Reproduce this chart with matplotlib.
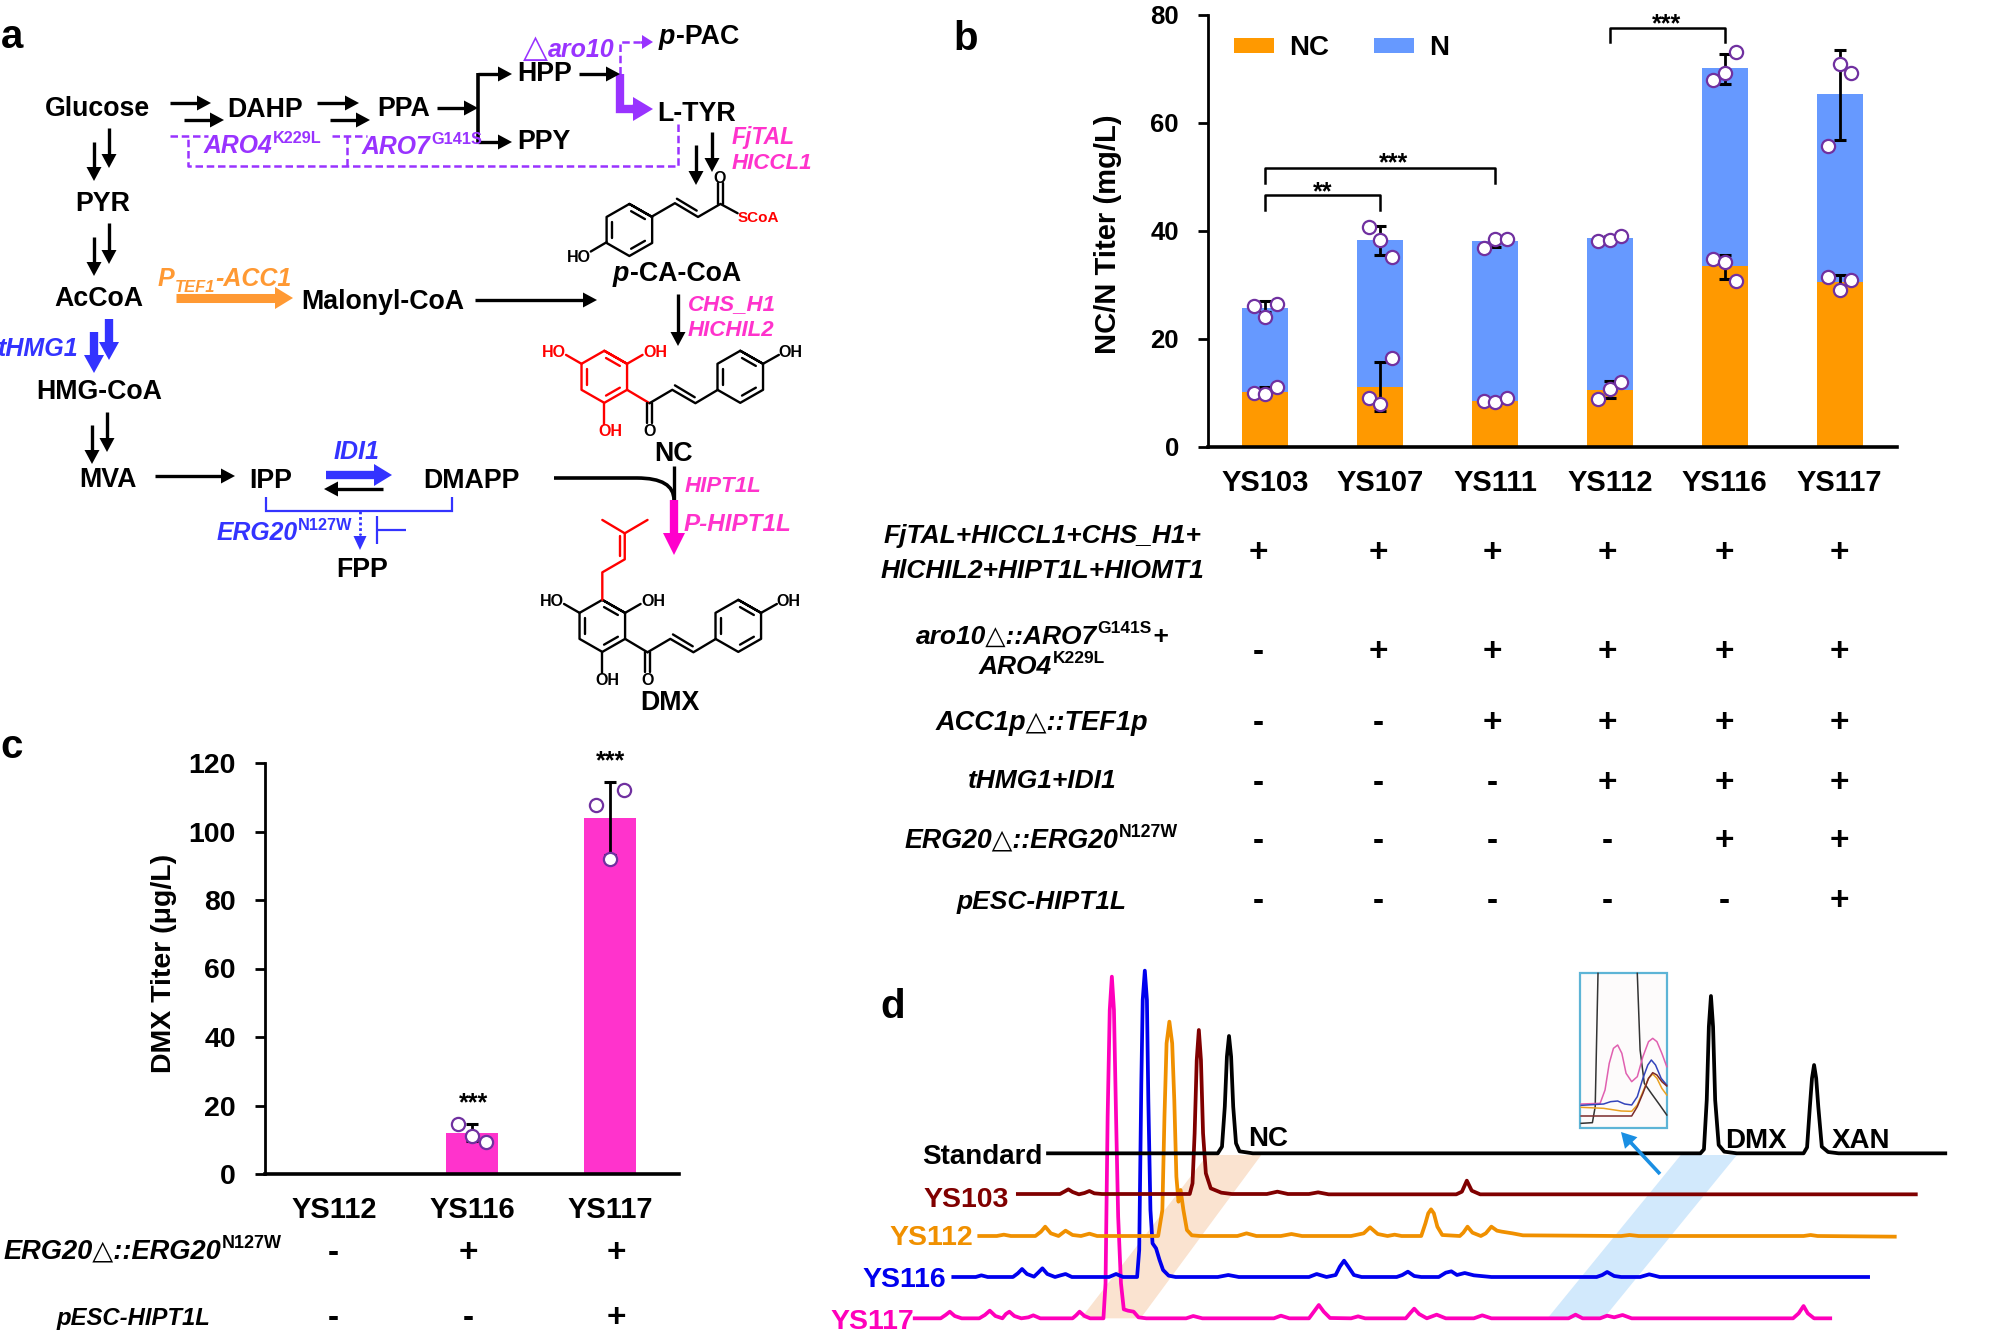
import numpy as np
import matplotlib
matplotlib.use('Agg')
import matplotlib.pyplot as plt
from matplotlib.patches import Polygon, Rectangle, PathPatch
from matplotlib.path import Path

plt.rcParams['font.family'] = ['Liberation Sans', 'DejaVu Sans']
plt.rcParams['font.weight'] = 'bold'

# ---------- DATA ----------
strains_b = ['YS103', 'YS107', 'YS111', 'YS112', 'YS116', 'YS117']
nc_titer = [10.2, 11.2, 8.6, 10.6, 33.5, 30.5]
n_titer = [15.5, 27.1, 29.5, 28.1, 36.7, 34.8]
nc_err_low = [10.0, 6.7, 8.3, 9.0, 31.2, 29.0]
nc_err_high = [11.1, 15.7, 9.0, 12.2, 35.5, 31.8]
total_err_low = [25.0, 35.5, 37.0, 38.2, 67.3, 56.9]
total_err_high = [27.0, 40.9, 38.9, 39.0, 72.8, 73.6]
nc_points = [[10.0, 9.8, 11.1], [9.1, 8.0, 16.4], [8.5, 8.3, 9.1],
             [8.8, 10.7, 12.0], [34.8, 34.3, 30.8], [31.4, 29.0, 31.0]]
total_points = [[26.1, 24.0, 26.5], [40.7, 38.3, 35.2], [36.9, 38.5, 38.6],
                [38.2, 38.3, 39.1], [67.9, 69.3, 73.1], [55.7, 70.9, 69.2]]
table_b = ['++++++', '-+++++', '--++++', '---+++', '----++', '-----+']

strains_c = ['YS112', 'YS116', 'YS117']
dmx_titer = [0, 12, 104]
dmx_err_low = [0, 9.5, 93]
dmx_err_high = [0, 14.5, 114.5]
dmx_points = [[], [14.7, 11.2, 9.3], [107.8, 92.0, 112.0]]
table_c = ['-++', '--+']

standard_trace = [(268,610),(510,610),(516,590),(520,470),(523,320),(526,258),(529,320),(532,470),(536,580),(541,604),(560,610),
                  (1198,610),(1203,598),(1207,450),(1210,230),(1213,138),(1216,230),(1219,450),(1224,585),(1232,605),(1250,610),
                  (1345,610),(1350,592),(1354,470),(1357,385),(1360,345),(1363,385),(1366,470),(1371,590),(1380,606),(1395,610),(1547,610)]
ys103_trace = [(225,732),(285,732),(292,724),(297,718),(303,726),(312,733),(320,729),(327,723),(334,730),(345,732),(470,732),
               (474,700),(477,550),(480,330),(483,240),(486,330),(489,550),(493,670),(500,715),(515,728),(530,732),(580,732),
               (595,725),(610,732),(640,732),(653,727),(668,733),(850,733),(858,725),(865,692),(872,722),(884,733),(1505,733)]
ys112_trace = [(170,858),(195,858),(205,854),(215,858),(250,858),(258,845),(264,830),(272,850),(283,858),(293,842),(303,855),
               (315,858),(327,851),(338,858),(425,858),(431,780),(434,500),(437,280),(441,215),(445,280),(448,450),(451,680),
               (454,755),(457,720),(461,780),(466,840),(473,856),(485,858),(538,858),(551,850),(565,858),(600,858),(615,852),
               (630,858),(700,858),(718,850),(727,832),(738,852),(752,858),(762,854),(772,858),(800,858),(806,820),(810,790),
               (814,778),(818,790),(823,830),(830,855),(855,858),(860,848),(866,830),(873,848),(885,858),(892,850),(900,830),
               (908,842),(915,845),(930,850),(945,856),(1085,858),(1097,855),(1110,858),(1345,858),(1355,855),(1365,858),(1475,860)]
ys116_trace = [(133,981),(165,981),(173,976),(182,981),(218,981),(225,970),(231,957),(238,972),(248,980),(254,968),(260,955),
               (267,972),(278,981),(286,976),(293,972),(302,981),(355,981),(365,972),(375,981),(395,981),(398,900),(401,400),
               (403,150),(406,62),(409,150),(411,450),(414,780),(417,880),(422,895),(427,930),(432,960),(440,977),(450,981),
               (510,981),(525,975),(540,981),(640,981),(651,972),(665,981),(678,975),(684,950),(690,932),(696,950),(704,975),
               (715,981),(765,981),(773,975),(781,965),(790,978),(800,981),(825,981),(835,968),(843,964),(851,975),(862,969),
               (875,976),(900,981),(1050,981),(1058,975),(1065,966),(1075,978),(1085,981),(1112,981),(1125,973),(1140,981),(1437,981)]
ys117_trace = [(78,1105),(115,1105),(122,1095),(128,1085),(135,1098),(145,1105),(170,1105),(178,1095),(185,1082),(193,1098),
               (203,1105),(208,1092),(213,1085),(220,1098),(230,1105),(240,1102),(247,1096),(257,1105),(303,1105),(308,1096),
               (313,1085),(320,1098),(328,1105),(347,1105),(350,1000),(353,500),(356,180),(359,80),(362,180),(365,500),(368,800),
               (372,1000),(376,1078),(382,1082),(390,1085),(397,1102),(408,1105),(465,1105),(475,1098),(488,1105),(590,1105),
               (600,1097),(612,1105),(640,1105),(647,1085),(654,1065),(661,1085),(670,1104),(700,1105),(710,1099),(720,1105),
               (778,1105),(784,1090),(790,1076),(797,1092),(808,1105),(822,1094),(835,1105),(875,1105),(887,1096),(900,1105),
               (1010,1105),(1020,1094),(1030,1105),(1055,1105),(1065,1097),(1075,1102),(1087,1095),(1100,1105),(1330,1105),
               (1338,1090),(1345,1068),(1351,1090),(1360,1105),(1383,1105)]
inset_black = [(1028,520),(1044,518),(1048,470),(1052,70)]
inset_black2 = [(1108,70),(1112,300),(1118,400),(1128,430),(1140,465),(1150,495)]
inset_magenta = [(1028,462),(1055,460),(1062,420),(1068,340),(1074,295),(1080,285),(1086,310),(1092,370),(1100,395),(1108,380),(1116,320),(1124,275),(1130,265),(1136,275),(1143,310),(1150,350)]
inset_blue = [(1028,466),(1060,462),(1070,455),(1080,453),(1090,462),(1100,465),(1108,440),(1116,385),(1123,345),(1128,330),(1134,345),(1142,385),(1150,405)]
inset_orange = [(1028,472),(1060,475),(1085,483),(1100,484),(1108,465),(1116,425),(1124,385),(1130,372),(1136,385),(1143,415),(1150,435)]
inset_darkred = [(1028,498),(1085,498),(1100,498),(1108,470),(1116,430),(1124,385),(1130,368),(1136,375),(1143,395),(1150,408)]

# ---------- COLOURS ----------
ORANGE, BLUE, PINK = '#FF9900', '#6699FF', '#FF33CC'
PURPLE, VIOLET, RBLUE = '#7030A0', '#9933FF', '#3333FF'
MAG = '#FF00CC'
DOT_W = 1.6

fig = plt.figure(figsize=(20, 13.4), dpi=100)
W, H = 2000, 1340

def ax_px(l, t, r, b, **kw):
    return fig.add_axes([l / W, 1 - b / H, (r - l) / W, (b - t) / H], **kw)

def style_axis(ax, size, pad):
    for s in ('top', 'right'):
        ax.spines[s].set_visible(False)
    ax.spines['left'].set_linewidth(2)
    ax.spines['bottom'].set_linewidth(2.6)
    ax.tick_params(axis='y', length=7, width=2, direction='out', labelsize=size, pad=pad)
    ax.tick_params(axis='x', length=0, labelsize=21)
    ax.patch.set_alpha(0)

# ---------- PANEL b ----------
axb = ax_px(1208, 15, 1897, 447)
xb = np.arange(len(strains_b))
totals = np.array(nc_titer) + np.array(n_titer)
b1 = axb.bar(xb, nc_titer, width=0.4, color=ORANGE, label='NC', zorder=2)
b2 = axb.bar(xb, n_titer, bottom=nc_titer, width=0.4, color=BLUE, label='N', zorder=2)
axb.errorbar(xb, nc_titer, yerr=[np.array(nc_titer) - np.array(nc_err_low), np.array(nc_err_high) - np.array(nc_titer)],
             fmt='none', ecolor='k', elinewidth=2, capsize=4.5, capthick=2.2, zorder=3)
axb.errorbar(xb, totals, yerr=[totals - np.array(total_err_low), np.array(total_err_high) - totals],
             fmt='none', ecolor='k', elinewidth=2, capsize=4.5, capthick=2.2, zorder=3)
for i in xb:
    for pts in (nc_points[i], total_points[i]):
        axb.plot([i - 0.1, i, i + 0.1], pts, 'o', ms=9.5, mfc='white', mec=PURPLE, mew=DOT_W, zorder=4, clip_on=False)
axb.set_xlim(-0.5, 5.5)
axb.set_ylim(0, 80)
axb.set_yticks([0, 20, 40, 60, 80])
axb.set_xticks(xb, strains_b)
style_axis(axb, 18.5, 14)
axb.tick_params(axis='x', pad=16)
axb.set_ylabel('NC/N Titer (mg/L)', fontsize=21, fontweight='bold')
axb.yaxis.set_label_coords((1122 - 1208) / 689, (447 - 234) / 432)
axb.legend(handles=[b1, b2], loc='upper left', bbox_to_anchor=((1234 - 1208) / 689, 0.953), ncol=2, frameon=False,
           fontsize=20, handlelength=1.44, handleheight=0.5, handletextpad=0.55, columnspacing=1.6,
           borderaxespad=0, borderpad=0)
for x0, x1, top, bot in ((0, 1, 46.7, 43.9), (0, 2, 51.7, 48.9), (3, 4, 77.6, 75.0)):
    axb.plot([x0, x0, x1, x1], [bot, top, top, bot], color='k', lw=1.8, clip_on=False, zorder=5)

# ---------- PANEL c ----------
axc = ax_px(265, 763, 679, 1174)
xc = np.arange(len(strains_c))
axc.bar(xc, dmx_titer, width=0.37, color=PINK, zorder=2)
te = np.array(dmx_titer, float)
axc.errorbar(xc[1:], te[1:], yerr=[(te - np.array(dmx_err_low))[1:], (np.array(dmx_err_high) - te)[1:]],
             fmt='none', ecolor='k', elinewidth=2, capsize=4.5, capthick=2.2, zorder=3)
for i in xc:
    if dmx_points[i]:
        axc.plot([i - 0.1, i, i + 0.1], dmx_points[i], 'o', ms=9.5, mfc='white', mec=PURPLE, mew=DOT_W, zorder=4, clip_on=False)
axc.set_xlim(-0.5, 2.5)
axc.set_ylim(0, 120)
axc.set_yticks(range(0, 121, 20))
axc.set_xticks(xc, strains_c)
style_axis(axc, 20.5, 14)
axc.tick_params(axis='x', pad=16)
axc.set_ylabel('DMX Titer (μg/L)', fontsize=20.5, fontweight='bold')
axc.yaxis.set_label_coords((177 - 265) / 414, (1174 - 963) / 411)

# ---------- PANEL d ----------
axd = ax_px(860, 950, 1960, 1340)
axd.set_xlim(0, 1568)
axd.set_ylim(1170, 0)
axd.axis('off')
axd.add_patch(Polygon([(495, 615), (572, 615), (400, 1105), (315, 1105)], fc='#FAE3D0', ec='none', zorder=1))
axd.add_patch(Polygon([(1170, 615), (1250, 615), (1060, 1105), (980, 1105)], fc='#D2E9FC', ec='none', zorder=1))
for trace, col in ((ys117_trace, '#FF00BB'), (ys116_trace, '#0000EE'), (ys112_trace, '#F09000'),
                   (ys103_trace, '#800000'), (standard_trace, 'k')):
    arr = np.array(trace)
    axd.plot(arr[:, 0], arr[:, 1], color=col, lw=2.7, solid_joinstyle='round', zorder=3, clip_on=False)
axd.add_patch(Rectangle((1027, 70), 123, 465, fc='#FDFBFB', ec='#5DB4D6', lw=1.6, zorder=4))
for tr, col in ((inset_black, '#333333'), (inset_black2, '#333333'), (inset_magenta, '#E060B0'), (inset_blue, '#3344BB'),
                (inset_orange, '#E8A020'), (inset_darkred, '#7A2A2A')):
    arr = np.array(tr)
    axd.plot(arr[:, 0], arr[:, 1], color=col, lw=1.1, zorder=5)

# ---------- OVERLAY (pathway, table text, labels) ----------
ov = fig.add_axes([0, 0, 1, 1], zorder=20)
ov.set_xlim(0, W)
ov.set_ylim(H, 0)
ov.axis('off')
ov.patch.set_alpha(0)
rend = fig.canvas.get_renderer()

def T(x, y, s, size=19, color='k', style='normal', ha='center', rot=0):
    em = size * 100 / 72
    return ov.text(x, y + 0.36 * em, s, fontsize=size, color=color, style=style, ha=ha, va='baseline',
                   fontweight='bold', rotation=rot, zorder=30)

def rich(x, y, parts, size=19, color='k', style='italic', ha='center'):
    """parts = [(string, kind)], kind: 'n' normal, 'sup', 'sub'; p = upright, tri = larger upright"""
    em = size * 100 / 72
    base = y + 0.36 * em
    items, cx = [], 0.0
    for s, kind in parts:
        sz, dy, st = size, 0, style
        if kind == 'sup':
            sz, dy, st = size * 0.66, -0.40 * em, 'normal'
        elif kind == 'sub':
            sz, dy = size * 0.66, 0.22 * em
        elif kind == 'p':
            st = 'normal'
        elif kind == 'tri':
            sz, st = size * 1.3, 'normal'
        t = ov.text(0, base + dy, s, fontsize=sz, color=color, style=st, ha='left', va='baseline', fontweight='bold', zorder=30)
        w = t.get_window_extent(rend).width
        items.append((t, cx))
        cx += w + 0.5
    x0 = x - cx / 2 if ha == 'center' else x
    for t, off in items:
        t.set_x(x0 + off)

def line(pts, c='k', w=2.2, ls='-', z=10):
    a = np.array(pts)
    ov.plot(a[:, 0], a[:, 1], color=c, lw=w, ls=ls, zorder=z, solid_capstyle='butt', dash_capstyle='butt',
            solid_joinstyle='miter', clip_on=False)

def arrow(x1, y1, x2, y2, c='k', w=2.4, hw=15, hl=14):
    d = np.array([x2 - x1, y2 - y1], float)
    L = np.hypot(*d)
    u = d / L
    n = np.array([-u[1], u[0]])
    tip = np.array([x2, y2], float)
    b = tip - u * hl
    line([(x1, y1), tuple(tip - u * hl * 0.7)], c, w)
    ov.add_patch(Polygon([tip, b + n * hw / 2, b - n * hw / 2], fc=c, ec='none', zorder=11))

# panel letters
for lab_, x, y in (('a', 12, 33), ('b', 966, 36), ('c', 12, 743), ('d', 893, 1004)):
    T(x, y, lab_, size=29)

# metabolites
for s, x, y in (('Glucose', 97, 106), ('DAHP', 265, 107), ('PPA', 404, 106), ('HPP', 545, 71), ('PPY', 544, 139),
                ('L-TYR', 697, 111), ('PYR', 103, 201), ('AcCoA', 99, 296), ('Malonyl-CoA', 383, 299),
                ('HMG-CoA', 99, 389), ('MVA', 108, 477), ('IPP', 271, 478), ('DMAPP', 471, 478), ('FPP', 362, 567),
                ('NC', 673, 451), ('DMX', 670, 700)):
    T(x, y, s, size=19.3)
rich(699, 34, [('p', 'n'), ('-PAC', 'p')], size=19.3)
rich(677, 271, [('p', 'n'), ('-CA-CoA', 'p')], size=19.3)

# enzyme labels
rich(569, 48, [('△', 'tri'), ('aro10', 'n')], size=18, color=VIOLET)
rich(263, 144, [('ARO4', 'n'), ('K229L', 'sup')], size=17.8, color=VIOLET)
rich(422, 145, [('ARO7', 'n'), ('G141S', 'sup')], size=17.8, color=VIOLET)
for s, x, y, sz in (('FjTAL', 763, 136, 16.5), ('HICCL1', 772, 161, 16), ('CHS_H1', 732, 302, 16), ('HICHIL2', 731, 328, 16),
                    ('HIPT1L', 723, 484, 16), ('P-HIPT1L', 738, 522, 17.5)):
    T(x, y, s, size=sz, color=PINK, style='italic')
rich(225, 277, [('P', 'n'), ('TEF1', 'sub'), ('-ACC1', 'n')], size=18, color='#FF9933')
T(38, 347, 'tHMG1', size=18, color=RBLUE, style='italic')
T(356, 450, 'IDI1', size=18, color=RBLUE, style='italic')
rich(285, 531, [('ERG20', 'n'), ('N127W', 'sup')], size=17.8, color=RBLUE)

# arrows: black
for a in ((170, 103, 211, 103), (184, 120, 224, 120), (317, 103, 359, 103), (330, 120, 370, 120), (437, 108, 478, 108),
          (478, 74, 512, 74), (478, 142, 512, 142), (579, 74, 620, 74),
          (109, 128, 109, 168), (94, 142, 94, 181), (109, 223, 109, 264), (94, 237, 94, 276),
          (712, 132, 712, 172), (696, 145, 696, 185), (107, 412, 107, 452), (92, 425, 92, 464),
          (475, 300, 597, 300), (678, 294, 678, 346), (155, 476, 235, 476), (383, 489, 324, 489)):
    arrow(*a)
line([(478, 73), (478, 143)], w=2.6)
# purple
line([(620, 74), (620, 109), (640, 109)], VIOLET, w=6)
arrow(632, 109, 653, 109, VIOLET, w=6, hw=24, hl=20)
line([(620, 74), (620, 42), (640, 42)], VIOLET, w=1.8, ls=(0, (3, 1.5)))
arrow(640, 42, 653, 42, VIOLET, w=1.8, hw=14, hl=11)
line([(678, 124), (678, 166), (188, 166), (188, 136)], VIOLET, w=1.8, ls=(0, (3, 1.5)))
line([(170, 136), (208, 136)], VIOLET, w=1.8, ls=(0, (3, 1.5)))
line([(347, 166), (347, 136)], VIOLET, w=1.8, ls=(0, (3, 1.5)))
line([(332, 136), (367, 136)], VIOLET, w=1.8, ls=(0, (3, 1.5)))
# blue / orange
arrow(109, 319, 109, 360, RBLUE, w=6, hw=20, hl=18)
arrow(94, 332, 94, 373, RBLUE, w=6, hw=20, hl=18)
arrow(176, 298, 293, 298, '#FF9933', w=6.5, hw=22, hl=18)
arrow(326, 475, 392, 475, RBLUE, w=6, hw=22, hl=18)
line([(266, 497), (266, 511), (452, 511), (452, 497)], RBLUE, w=1.6)
line([(360, 511), (360, 535)], RBLUE, w=2, ls=(0, (1, 1)))
arrow(360, 533, 360, 550, RBLUE, w=0.5, hw=13, hl=14)
line([(377, 516), (377, 544)], RBLUE, w=1.6)
line([(377, 530), (406, 530)], RBLUE, w=1.6)
# prenyl step
ov.add_patch(PathPatch(Path([(554, 478), (637, 478), (674, 478), (674, 500)],
                            [Path.MOVETO, Path.LINETO, Path.CURVE3, Path.CURVE3]), fc='none', ec='k', lw=2.6, zorder=10))
line([(674, 466), (674, 501)], w=2.4)
arrow(674, 500, 674, 555, MAG, w=6, hw=22, hl=22)

# structures, given in crop units of the reference
def Z(x, y):
    return (500 + x / 3.03, 140 + y / 2.69)

def zline(pts, c='k', w=1.7):
    ov.plot(*zip(*[Z(*p) for p in pts]), color=c, lw=w, zorder=12, solid_capstyle='round', solid_joinstyle='round')

def ring(cx, cy, c='k'):
    o = [(0, -70), (69, -35), (69, 35), (0, 70), (-69, 35), (-69, -35)]
    pts = [(cx + a, cy + b) for a, b in o]
    zline(pts + pts[:2], c)
    for i, j in ((0, 1), (4, 5), (2, 3)):
        p = np.array(pts[i], float)
        q = np.array(pts[j], float)
        ctr = np.array([cx, cy], float)
        p2 = ctr + (p - ctr) * 0.76
        q2 = ctr + (q - ctr) * 0.76
        m = (p2 + q2) / 2
        zline([tuple(m + (p2 - m) * 0.8), tuple(m + (q2 - m) * 0.8)], c)

def enone(dx, dy, c1='k'):
    """chalcone core, drawn with offset dx,dy from the NC position"""
    S = lambda pts: [(x + dx, y + dy) for x, y in pts]
    zline(S([(385, 672), (453, 708)]), c1)
    zline(S([(453, 708), (522, 672), (592, 708), (660, 672)]))
    zline(S([(530, 660), (590, 692)]))
    zline(S([(446, 708), (446, 762)]))
    zline(S([(460, 708), (460, 762)]))

def lab(x, y, s, c='k', size=11.5):
    px, py = Z(x, y)
    T(px, py, s, size=size, color=c)

# p-CA-CoA
ring(392, 242)
zline([(462, 205), (530, 170), (600, 207), (668, 172), (720, 197)])
zline([(536, 158), (596, 190)])
zline([(661, 172), (661, 115)])
zline([(675, 172), (675, 115)])
zline([(323, 275), (275, 300)])
lab(666, 100, 'O')
lab(238, 313, 'HO')
lab(784, 207, 'SCoA', c='#FF0000', size=11)
# NC
ring(316, 637, '#FF0000')
ring(728, 637)
enone(0, 0, '#FF0000')
zline([(247, 602), (200, 578)], '#FF0000')
zline([(385, 602), (432, 578)], '#FF0000')
zline([(316, 707), (316, 765)], '#FF0000')
zline([(797, 602), (845, 578)])
lab(163, 568, 'HO', '#FF0000')
lab(470, 568, 'OH', '#FF0000')
lab(333, 782, 'OH', '#FF0000')
lab(453, 782, 'O')
lab(881, 568, 'OH')
# DMX
ring(310, 1307)
ring(722, 1307)
enone(-6, 670)
zline([(241, 1272), (194, 1248)])
zline([(379, 1272), (426, 1248)])
zline([(310, 1377), (310, 1435)])
zline([(791, 1272), (839, 1248)])
zline([(310, 1237), (310, 1163), (378, 1128), (378, 1058)], '#FF0000')
zline([(364, 1118), (364, 1066)], '#FF0000')
zline([(310, 1022), (378, 1058), (447, 1022)], '#FF0000')
lab(157, 1238, 'HO')
lab(464, 1238, 'OH')
lab(325, 1451, 'OH')
lab(447, 1451, 'O')
lab(875, 1238, 'OH')

# panel b stars
T(1323, 190, '**', size=18)
T(1394, 161, '***', size=18)
T(1667, 22, '***', size=18)
# panel c stars
T(474, 1101, '***', size=18)
T(611, 759, '***', size=18)

# table b
rows_b_y = [550, 649, 720, 780, 838, 898]
cols_b_x = [1258, 1378, 1492, 1607, 1724, 1839]
for r, y in zip(table_b, rows_b_y):
    for ch, x in zip(r, cols_b_x):
        T(x, y, ch, size=24)
T(1042, 534, 'FjTAL+HICCL1+CHS_H1+', size=19, style='italic')
T(1042, 568, 'HlCHIL2+HIPT1L+HIOMT1', size=19, style='italic')
rich(1042, 634, [('aro10△::ARO7', 'n'), ('G141S', 'sup'), ('+', 'n')], size=19)
rich(1042, 664, [('ARO4', 'n'), ('K229L', 'sup')], size=19)
T(1042, 720, 'ACC1p△::TEF1p', size=19.5, style='italic')
T(1042, 779, 'tHMG1+IDI1', size=19, style='italic')
rich(1042, 838, [('ERG20△::ERG20', 'n'), ('N127W', 'sup')], size=19.3)
T(1042, 899, 'pESC-HIPT1L', size=19, style='italic')

# table c
for r, y in zip(table_c, [1250, 1315]):
    for ch, x in zip(r, [333, 468, 616]):
        T(x, y, ch, size=24)
rich(143, 1249, [('ERG20△::ERG20', 'n'), ('N127W', 'sup')], size=19.6)
T(133, 1316, 'pESC-HIPT1L', size=17.2, style='italic')

# panel d labels
T(982, 1154, 'Standard', size=20)
T(966, 1197, 'YS103', size=20.5, color='#800000')
T(931, 1235, 'YS112', size=20.5, color='#F09000')
T(904, 1277, 'YS116', size=20.5, color='#0000EE')
T(872, 1319, 'YS117', size=20.5, color='#FF00BB')
T(1268, 1136, 'NC', size=20)
T(1756, 1138, 'DMX', size=20)
T(1861, 1138, 'XAN', size=20)
# inset arrow
arrow(1660, 1174, 1621, 1132, '#1A8FE3', w=2.6, hw=17, hl=15)

fig.savefig('out.png', dpi=100)
